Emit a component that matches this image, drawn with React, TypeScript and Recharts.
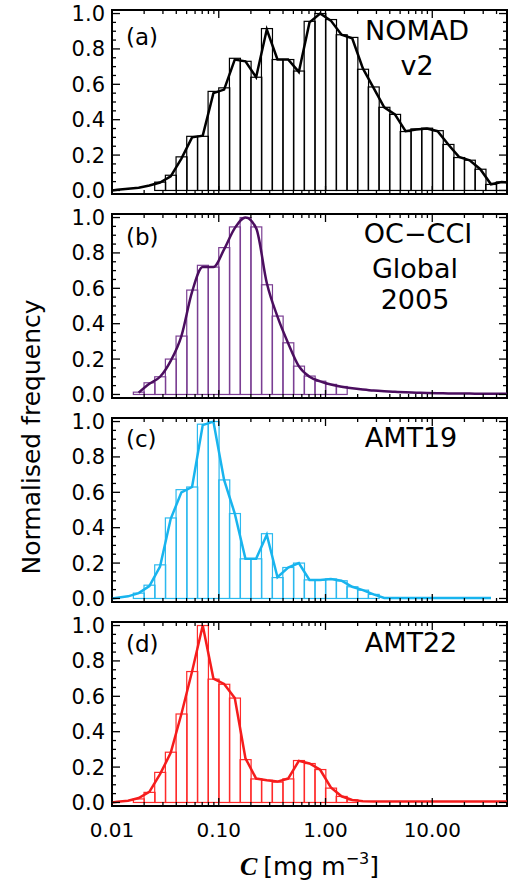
import React from "react";
import { ComposedChart, Bar, Line, XAxis, YAxis, ReferenceArea } from "recharts";

// histogram bins: 0.1 decade wide in log10(C), from 0.01 to ~50
const binCentres = Array.from({ length: 37 }, (_, i) => -1.95 + 0.1 * i);

const xMajor = [-2, -1, 0, 1];
const xMajorLabels = ["0.01", "0.10", "1.00", "10.00"];
const xMinor: number[] = [];
[-2, -1, 0, 1].forEach((d) => {
  for (let k = 2; k <= 9; k++) {
    const v = d + Math.log10(k);
    if (v < 1.7) xMinor.push(v);
  }
});
const xTicks = [...xMajor, ...xMinor];
const yTicks = Array.from({ length: 21 }, (_, i) => i * 0.05);

// (a) NOMAD v2
const histA = [null, null, null, null, 0.047, 0.086, 0.19, 0.306, 0.306, 0.56, 0.58, 0.747, 0.73, 0.64, 0.915, 0.74, 0.74, 0.675, 0.956, 1.0, 0.966, 0.88, 0.865, 0.685, 0.585, 0.47, 0.43, 0.333, 0.348, 0.352, 0.338, 0.26, 0.186, 0.171, 0.12, 0.034, 0.048];
const lineA = [0.004, 0.01, 0.015, 0.028, 0.045, 0.08, 0.18, 0.3, 0.31, 0.55, 0.57, 0.74, 0.73, 0.64, 0.91, 0.74, 0.74, 0.67, 0.95, 1.0, 0.96, 0.88, 0.86, 0.69, 0.58, 0.47, 0.43, 0.335, 0.345, 0.35, 0.335, 0.26, 0.19, 0.17, 0.12, 0.035, 0.048];
const edgeA = [0, 0.045];

// (b) OC-CCI Global 2005
const histB = [null, null, 0.013, 0.066, 0.1, 0.2, 0.33, 0.59, 0.73, 0.72, 0.83, 0.947, 1.0, 0.947, 0.62, 0.443, 0.292, 0.16, 0.104, 0.075, 0.057, 0.045, null, null, null, null, null, null, null, null, null, null, null, null, null, null, null];
const lineB = [null, null, 0.01, 0.06, 0.1, 0.19, 0.33, 0.58, 0.72, 0.72, 0.82, 0.94, 1.0, 0.94, 0.63, 0.44, 0.29, 0.16, 0.1, 0.074, 0.056, 0.044, 0.035, 0.028, 0.022, 0.018, 0.015, 0.012, 0.01, 0.008, 0.007, 0.006, 0.005, 0.005, 0.004, 0.004, 0.004];
const edgeB = [null, 0.004];

// (c) AMT19
const histC = [null, null, 0.03, 0.075, 0.19, 0.455, 0.615, 0.63, 0.985, 1.0, 0.67, 0.48, 0.224, 0.224, 0.366, 0.118, 0.175, 0.2, 0.105, 0.105, 0.11, 0.1, 0.066, 0.047, 0.023, null, null, null, null, null, null, null, null, null, null, null, null];
const lineC = [0.004, 0.012, 0.03, 0.07, 0.18, 0.45, 0.6, 0.63, 0.98, 1.0, 0.67, 0.48, 0.224, 0.224, 0.36, 0.12, 0.175, 0.2, 0.105, 0.105, 0.11, 0.1, 0.066, 0.047, 0.023, 0.003, 0.002, 0.002, 0.002, 0.002, 0.002, 0.002, 0.002, 0.002, 0.002, 0.002, null];
const edgeC = [0, null];

// (d) AMT22
const histD = [null, null, 0.02, 0.057, 0.17, 0.284, 0.5, 0.74, 1.0, 0.697, 0.668, 0.59, 0.242, 0.133, 0.125, 0.115, 0.133, 0.237, 0.22, 0.186, 0.081, 0.034, 0.015, null, null, null, null, null, null, null, null, null, null, null, null, null, null];
const lineD = [0.004, 0.01, 0.025, 0.06, 0.16, 0.28, 0.5, 0.74, 1.0, 0.7, 0.67, 0.59, 0.25, 0.135, 0.125, 0.118, 0.135, 0.235, 0.22, 0.185, 0.085, 0.035, 0.014, 0.007, 0.006, 0.006, 0.006, 0.006, 0.006, 0.006, 0.006, 0.006, 0.006, 0.006, 0.006, 0.006, 0.006];
const edgeD = [0, 0.006];

const FONT = "'DejaVu Sans', sans-serif";
const CHART_W = 512;
const PLOT_L = 112;
const PLOT_R = 5;
const PLOT_W = CHART_W - PLOT_L - PLOT_R;
const PLOT_H = 184;
const M_TOP = 14;
const M_BOT = 8;
const panelTops = [10, 214, 418, 622];
const X_DOMAIN = [-2, 1.7];
const Y_DOMAIN = [-0.02, 1.02];

// bottom ticks, mirrored on the top edge of the frame
const BottomTick = (props: any) => {
  const { x, y, payload, showLabels } = props;
  const k = xMajor.indexOf(payload.value);
  const len = k >= 0 ? 8 : 4;
  const yTop = y - PLOT_H;
  return (
    <g>
      <line x1={x} x2={x} y1={y} y2={y - len} stroke="#000" strokeWidth={1.3} />
      <line x1={x} x2={x} y1={yTop} y2={yTop + len} stroke="#000" strokeWidth={1.3} />
      {showLabels && k >= 0 && (
        <text x={x} y={y + 31} textAnchor="middle" fontSize={20} fontFamily={FONT} fill="#000">
          {xMajorLabels[k]}
        </text>
      )}
    </g>
  );
};

const isMajorY = (v: number) => Math.abs(v * 5 - Math.round(v * 5)) < 1e-6;

// left ticks, mirrored on the right edge of the frame
const LeftTick = (props: any) => {
  const { x, y, payload } = props;
  const major = isMajorY(payload.value);
  const len = major ? 8 : 4;
  const xRight = x + PLOT_W;
  return (
    <g>
      <line x1={x} x2={x + len} y1={y} y2={y} stroke="#000" strokeWidth={1.3} />
      <line x1={xRight} x2={xRight - len} y1={y} y2={y} stroke="#000" strokeWidth={1.3} />
      {major && (
        <text x={x - 7} y={y} dy="0.36em" textAnchor="end" fontSize={21} fontFamily={FONT} fill="#000">
          {payload.value.toFixed(1)}
        </text>
      )}
    </g>
  );
};

const outlineBar = (color: string) => (props: any) => {
  const { x, y, width, height, payload } = props;
  if (!payload || payload.h == null || !width) return <g />;
  return <rect x={x} y={y} width={width} height={height} fill="none" stroke={color} strokeWidth={1.2} />;
};

interface PanelProps {
  hist: (number | null)[];
  line: (number | null)[];
  edge: (number | null)[];
  lineColor: string;
  barColor: string;
  curve: "linear" | "monotone";
  top: number;
  showX?: boolean;
}

const Panel = ({ hist, line, edge, lineColor, barColor, curve, top, showX = false }: PanelProps) => {
  const barData = binCentres.map((c, i) => ({ bin: i, h: hist[i] }));
  const pts = [
    { lx: X_DOMAIN[0], v: edge[0] },
    ...binCentres.map((c, i) => ({ lx: c, v: line[i] })),
    { lx: X_DOMAIN[1], v: edge[1] },
  ].filter((p) => p.v != null);
  const xh = showX ? 80 : 1;

  return (
    <div style={{ position: "absolute", left: 0, top: top - M_TOP }}>
      <ComposedChart
        width={CHART_W}
        height={M_TOP + PLOT_H + xh + M_BOT}
        data={barData}
        margin={{ top: M_TOP, right: PLOT_R, bottom: M_BOT, left: 0 }}
        barCategoryGap={0}
        barGap={0}
      >
        <XAxis xAxisId="bins" dataKey="bin" type="category" hide height={0} />
        <XAxis
          xAxisId="log"
          dataKey="lx"
          type="number"
          domain={X_DOMAIN}
          allowDataOverflow
          ticks={xTicks}
          interval={0}
          tickLine={false}
          axisLine={false}
          tickSize={0}
          tickMargin={0}
          height={xh}
          tick={(p: any) => <BottomTick {...p} showLabels={showX} />}
        />
        <YAxis
          yAxisId="l"
          type="number"
          domain={Y_DOMAIN}
          allowDataOverflow
          ticks={yTicks}
          interval={0}
          tickLine={false}
          axisLine={false}
          tickSize={0}
          tickMargin={0}
          width={PLOT_L}
          tick={LeftTick}
        />
        <Bar
          xAxisId="bins"
          yAxisId="l"
          dataKey="h"
          shape={outlineBar(barColor)}
          isAnimationActive={false}
        />
        <Line
          xAxisId="log"
          yAxisId="l"
          data={pts}
          dataKey="v"
          type={curve}
          stroke={lineColor}
          strokeWidth={2.5}
          dot={false}
          activeDot={false}
          isAnimationActive={false}
        />
        <ReferenceArea
          xAxisId="log"
          yAxisId="l"
          x1={X_DOMAIN[0]}
          x2={X_DOMAIN[1]}
          y1={Y_DOMAIN[0]}
          y2={Y_DOMAIN[1]}
          fill="none"
          fillOpacity={0}
          stroke="#000"
          strokeWidth={2}
          ifOverflow="visible"
        />
      </ComposedChart>
    </div>
  );
};

const textStyle = { fontFamily: FONT, fill: "#000" };

export default function App() {
  return (
    <div style={{ position: "absolute", left: 0, top: 0, width: 512, height: 885, background: "#fff" }}>
      <Panel hist={histA} line={lineA} edge={edgeA} lineColor="#000000" barColor="#000000" curve="linear" top={panelTops[0]} />
      <Panel hist={histB} line={lineB} edge={edgeB} lineColor="#4b0e5f" barColor="#7b3f93" curve="monotone" top={panelTops[1]} />
      <Panel hist={histC} line={lineC} edge={edgeC} lineColor="#18b4ee" barColor="#2bb9ef" curve="linear" top={panelTops[2]} />
      <Panel hist={histD} line={lineD} edge={edgeD} lineColor="#f51c1c" barColor="#ff2a2a" curve="linear" top={panelTops[3]} showX />
      <svg width={512} height={885} style={{ position: "absolute", left: 0, top: 0, pointerEvents: "none" }}>
        <text x={126} y={45} fontSize={23} {...textStyle}>(a)</text>
        <text x={417} y={40} fontSize={27} textAnchor="middle" {...textStyle}>NOMAD</text>
        <text x={417} y={75} fontSize={27} textAnchor="middle" {...textStyle}>v2</text>

        <text x={126} y={245} fontSize={23} {...textStyle}>(b)</text>
        <text x={418} y={243} fontSize={27} textAnchor="middle" {...textStyle}>OC−CCI</text>
        <text x={415} y={278} fontSize={27} textAnchor="middle" {...textStyle}>Global</text>
        <text x={415} y={309} fontSize={27} textAnchor="middle" {...textStyle}>2005</text>

        <text x={126} y={447} fontSize={23} {...textStyle}>(c)</text>
        <text x={411} y={447} fontSize={27} textAnchor="middle" {...textStyle}>AMT19</text>

        <text x={126} y={652} fontSize={23} {...textStyle}>(d)</text>
        <text x={411} y={652} fontSize={27} textAnchor="middle" {...textStyle}>AMT22</text>

        <text x={40} y={437} fontSize={25} textAnchor="middle" transform="rotate(-90 40 437)" {...textStyle}>
          Normalised frequency
        </text>
        <text x={240} y={875} fontSize={25} {...textStyle}>
          <tspan fontFamily="'Liberation Serif', serif" fontWeight="bold" fontStyle="italic" fontSize={26}>C</tspan>
          <tspan dx={6}>[mg m</tspan>
          <tspan dy={-11} fontSize={16}>−3</tspan>
          <tspan dy={11}>]</tspan>
        </text>
      </svg>
    </div>
  );
}
